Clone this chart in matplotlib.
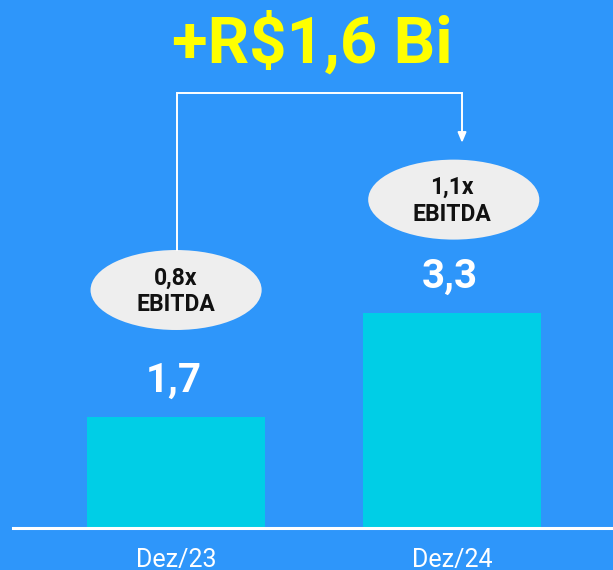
import matplotlib
matplotlib.use("Agg")
import matplotlib.pyplot as plt
from matplotlib.patches import Ellipse

# dados
categorias = ["Dez/23", "Dez/24"]
valores    = [1.7, 3.3]
rotulos    = ["1,7", "3,3"]
multiplos  = ["0,8x\nEBITDA", "1,1x\nEBITDA"]
titulo     = "+R$1,6 Bi"

BG    = "#2E96FA"
BAR   = "#00CEE6"
ELIP  = "#EEEEEE"
AMAR  = "#FFFF00"

plt.rcParams["font.family"] = ["Roboto", "DejaVu Sans"]

fig = plt.figure(figsize=(6.13, 5.70), dpi=100, facecolor=BG)
ax = fig.add_axes([0, 0, 1, 1])
ax.set_facecolor(BG)

x = list(range(len(categorias)))
ax.bar(x, valores, width=0.645, color=BAR, zorder=2)
ax.set_xlim(-0.638, 1.583)
ax.set_ylim(-0.646, 8.12)
ax.axis("off")

# linha de base
ax.axhline(0, xmin=13 / 613, xmax=1, color="white", lw=2.2, zorder=3)

# rótulos de valor e categorias
for xi, v, r, c in zip(x, valores, rotulos, categorias):
    ax.text(xi - 0.01, v + 0.39, r, ha="center", va="baseline", color="white",
            fontsize=29, fontweight="bold")
    ax.text(xi, -0.6, c, ha="center", va="baseline", color="white", fontsize=18)

# elipses com múltiplo de EBITDA
elip_y = [3.66, 5.05]
for xi, ey, m in zip(x, elip_y, multiplos):
    ax.add_patch(Ellipse((xi + (0.006 if xi else 0.0), ey), 0.620, 1.23,
                         facecolor=ELIP, edgecolor="none", zorder=3))
    ax.text(xi, ey - 0.02, m, ha="center", va="center", color="#111111",
            fontsize=16.5, fontweight="bold", linespacing=1.2, zorder=4)

# colchete com seta
yb = 6.69
ax.plot([0.003, 0.003, 1.036, 1.036], [elip_y[0] + 0.62, yb, yb, 6.05],
        color="white", lw=1.4, zorder=3, solid_joinstyle="miter")
ax.annotate("", xy=(1.036, 5.88), xytext=(1.036, 6.1),
            arrowprops=dict(arrowstyle="-|>,head_length=0.6,head_width=0.25",
                            color="white", lw=1.4))

fig.text(312 / 613, 1 - 63 / 570, titulo, ha="center", va="baseline",
         color=AMAR, fontsize=47, fontweight="bold")

plt.savefig("out.png", dpi=100, facecolor=BG)
